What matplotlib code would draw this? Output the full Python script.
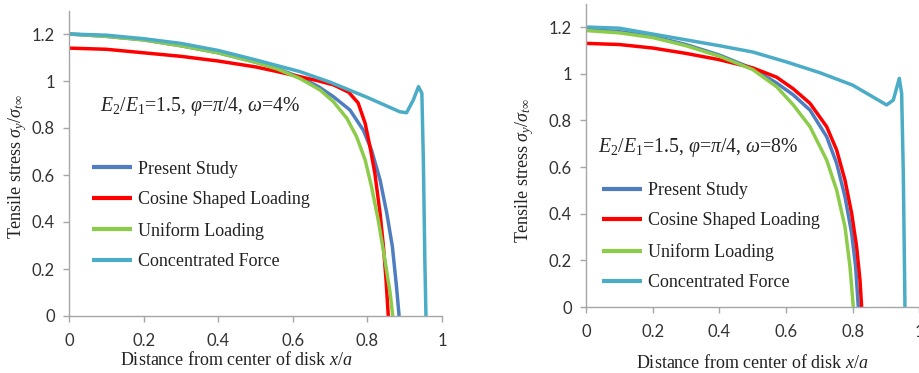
import matplotlib
matplotlib.use("Agg")
import matplotlib.pyplot as plt

plt.rcParams['mathtext.fontset'] = 'custom'
plt.rcParams['mathtext.rm'] = 'Liberation Serif'
plt.rcParams['mathtext.it'] = 'Liberation Serif:italic'
plt.rcParams['mathtext.bf'] = 'Liberation Serif:bold'

# ---------------- data: left panel (omega = 4%) ----------------
L_present_x = [0, 0.1, 0.2, 0.3, 0.4, 0.5, 0.56, 0.62, 0.67, 0.709, 0.753, 0.789, 0.811, 0.834, 0.852, 0.867, 0.878, 0.885]
L_present_y = [1.20, 1.19, 1.175, 1.15, 1.12, 1.08, 1.052, 1.015, 0.975, 0.933, 0.877, 0.791, 0.706, 0.579, 0.437, 0.295, 0.125, 0.0]
L_cosine_x = [0, 0.1, 0.2, 0.3, 0.4, 0.5, 0.55, 0.62, 0.67, 0.71, 0.75, 0.775, 0.794, 0.807, 0.82, 0.834, 0.843, 0.85, 0.856]
L_cosine_y = [1.14, 1.135, 1.12, 1.105, 1.085, 1.06, 1.043, 1.018, 1.0, 0.983, 0.952, 0.907, 0.82, 0.72, 0.607, 0.437, 0.295, 0.153, 0.0]
L_uniform_x = [0, 0.1, 0.2, 0.3, 0.4, 0.5, 0.56, 0.62, 0.673, 0.709, 0.745, 0.771, 0.794, 0.811, 0.829, 0.847, 0.861, 0.868]
L_uniform_y = [1.20, 1.19, 1.175, 1.15, 1.12, 1.08, 1.05, 1.01, 0.962, 0.912, 0.841, 0.763, 0.664, 0.55, 0.409, 0.238, 0.097, 0.0]
L_conc_x = [0, 0.1, 0.2, 0.3, 0.4, 0.5, 0.619, 0.7, 0.8, 0.887, 0.905, 0.923, 0.937, 0.946, 0.95, 0.954, 0.957]
L_conc_y = [1.20, 1.195, 1.18, 1.16, 1.13, 1.09, 1.04, 0.995, 0.93, 0.869, 0.865, 0.919, 0.976, 0.948, 0.664, 0.238, 0.0]

# ---------------- data: right panel (omega = 8%) ----------------
R_present_x = [0, 0.1, 0.2, 0.3, 0.4, 0.5, 0.572, 0.622, 0.672, 0.722, 0.752, 0.777, 0.797, 0.809, 0.817]
R_present_y = [1.19, 1.18, 1.16, 1.125, 1.08, 1.022, 0.96, 0.909, 0.844, 0.730, 0.616, 0.473, 0.316, 0.173, 0.0]
R_cosine_x = [0, 0.1, 0.2, 0.3, 0.4, 0.5, 0.572, 0.622, 0.672, 0.722, 0.752, 0.777, 0.797, 0.812, 0.822, 0.827]
R_cosine_y = [1.13, 1.125, 1.11, 1.087, 1.06, 1.025, 0.985, 0.935, 0.873, 0.773, 0.673, 0.544, 0.402, 0.258, 0.116, 0.0]
R_uniform_x = [0, 0.1, 0.2, 0.3, 0.4, 0.5, 0.572, 0.622, 0.672, 0.722, 0.752, 0.777, 0.792, 0.802]
R_uniform_y = [1.185, 1.175, 1.155, 1.12, 1.075, 1.018, 0.944, 0.866, 0.773, 0.630, 0.501, 0.344, 0.173, 0.0]
R_conc_x = [0, 0.1, 0.2, 0.3, 0.4, 0.5, 0.6, 0.7, 0.8, 0.902, 0.922, 0.94, 0.947, 0.952, 0.957]
R_conc_y = [1.20, 1.195, 1.17, 1.145, 1.12, 1.093, 1.051, 1.005, 0.951, 0.866, 0.887, 0.98, 0.916, 0.573, 0.0]

labels = ["Present Study", "Cosine Shaped Loading", "Uniform Loading", "Concentrated Force"]
colors = ["#4F7EC0", "#FF0000", "#8DCB4A", "#4BACC6"]
x_ticks = [0, 0.2, 0.4, 0.6, 0.8, 1]
x_ticklabels = ["0", "0.2", "0.4", "0.6", "0.8", "1"]
y_ticks = [0, 0.2, 0.4, 0.6, 0.8, 1.0, 1.2]
y_ticklabels = ["0", "0.2", "0.4", "0.6", "0.8", "1", "1.2"]

annot_L = r"$E_2/E_1$=1.5, $\varphi$=$\pi$/4, $\omega$=4%"
annot_R = r"$E_2/E_1$=1.5, $\varphi$=$\pi$/4, $\omega$=8%"
ylabel = r"Tensile stress $\sigma_y/\sigma_{t\infty}$"
xlabel = r"Distance from center of disk $x/a$"

W, H = 920, 373
fig = plt.figure(figsize=(W / 100, H / 100), dpi=100)

def px_axes(l, r, b, t):
    return fig.add_axes([l / W, 1 - b / H, (r - l) / W, (b - t) / H])

axL = px_axes(69, 442, 316, 10.5)
axR = px_axes(586, 919.3, 307, 3.7)

serif = "Liberation Serif"
tickfont = "Lato"

panels = [
    (axL, [(L_present_x, L_present_y), (L_cosine_x, L_cosine_y), (L_uniform_x, L_uniform_y), (L_conc_x, L_conc_y)],
     annot_L, (0.083, 0.687), (0.062, 0.329), (-0.139, 0.488), (0.45, -0.144)),
    (axR, [(R_present_x, R_present_y), (R_cosine_x, R_cosine_y), (R_uniform_x, R_uniform_y), (R_conc_x, R_conc_y)],
     annot_R, (0.036, 0.526), (0.048, 0.232), (-0.183, 0.45), (0.498, -0.185)),
]

for ax, series, annot, apos, lpos, ylpos, xlpos in panels:
    for (xs, ys), lab, c in zip(series, labels, colors):
        ax.plot(xs, ys, color=c, lw=2.5, label=lab, solid_joinstyle='round',
                solid_capstyle='butt')
    ax.set_xlim(0, 1)
    ax.set_ylim(0, 1.3)
    ax.set_xticks(x_ticks)
    ax.set_xticklabels(x_ticklabels)
    ax.set_yticks(y_ticks)
    ax.set_yticklabels(y_ticklabels)
    for s in ['top', 'right']:
        ax.spines[s].set_visible(False)
    for s in ['left', 'bottom']:
        ax.spines[s].set_color('#A6A6A6')
        ax.spines[s].set_linewidth(1.0)
    ax.tick_params(axis='both', direction='out', length=4, width=1, color='#A6A6A6',
                   labelcolor='#333333', labelsize=12)
    ax.tick_params(axis='y', pad=6)
    ax.tick_params(axis='x', pad=8)
    for t in ax.get_xticklabels() + ax.get_yticklabels():
        t.set_fontfamily(tickfont)
    ax.set_ylabel(ylabel, fontfamily=serif, fontsize=13, color='#222222')
    ax.yaxis.set_label_coords(*ylpos)
    ax.set_xlabel(xlabel, fontfamily=serif, fontsize=13, color='#222222')
    ax.xaxis.set_label_coords(*xlpos)
    ax.xaxis.label.set_va('center')
    ax.yaxis.label.set_va('center')
    ax.text(apos[0], apos[1], annot, transform=ax.transAxes, fontfamily=serif,
            fontsize=14.2, va='center', ha='left', color='#222222')
    leg = ax.legend(loc='center left', bbox_to_anchor=lpos, frameon=False,
                    prop={'family': serif, 'size': 13}, handlelength=2.2,
                    handletextpad=0.35, labelspacing=0.75, borderpad=0,
                    borderaxespad=0)
    for t in leg.get_texts():
        t.set_color('#222222')
    for h in leg.get_lines():
        h.set_linewidth(3)

fig.savefig("out.png", dpi=100)
